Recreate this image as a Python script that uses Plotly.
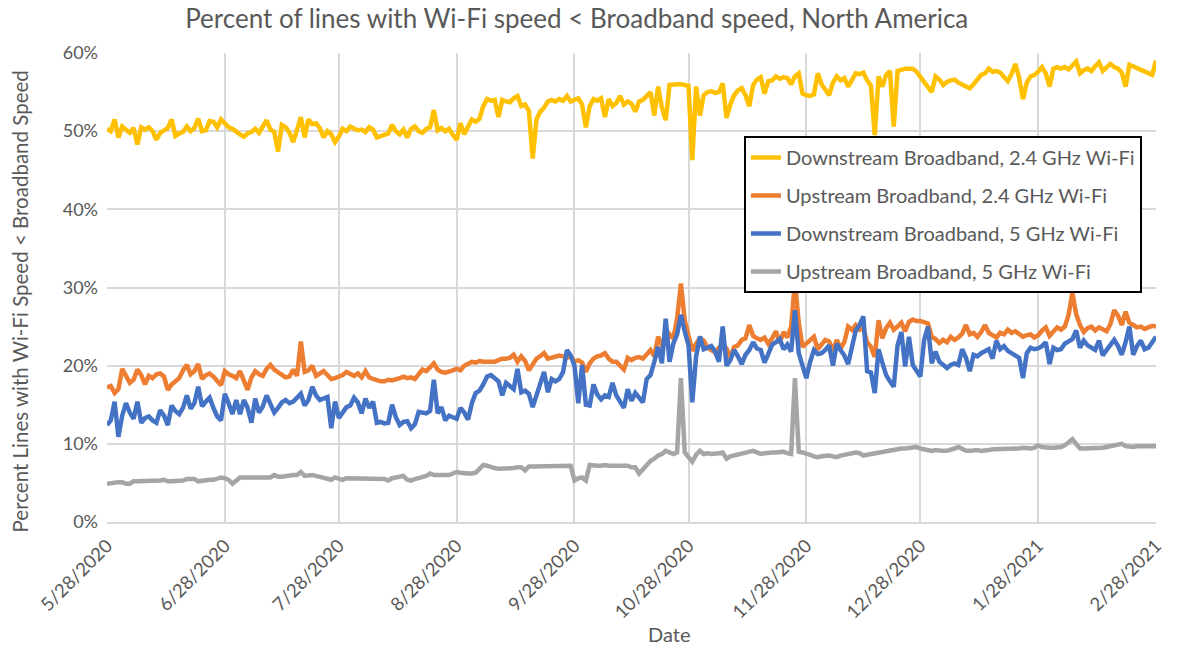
import pandas as pd
import plotly.graph_objects as go

# Daily observation dates
start_date = "2020-05-28"
end_date = "2021-02-28"
dates = pd.date_range(start_date, end_date, freq="D")

# Monthly tick marks on the date axis
tick_dates = ["2020-05-28", "2020-06-28", "2020-07-28", "2020-08-28", "2020-09-28",
              "2020-10-28", "2020-11-28", "2020-12-28", "2021-01-28", "2021-02-28"]
tick_labels = ["5/28/2020", "6/28/2020", "7/28/2020", "8/28/2020", "9/28/2020",
               "10/28/2020", "11/28/2020", "12/28/2020", "1/28/2021", "2/28/2021"]

# Percent of lines, one value per day
down_24 = [
    50.3, 50.0, 51.5, 49.2, 50.6, 50.2, 49.8, 50.4, 48.3, 50.5,
    50.2, 50.5, 50.0, 48.9, 49.8, 50.1, 50.4, 51.5, 49.4, 49.7,
    49.9, 50.6, 50.0, 50.4, 51.6, 50.0, 50.1, 51.3, 51.2, 50.5,
    51.5, 51.0, 50.5, 50.3, 49.9, 49.6, 49.3, 49.7, 49.9, 50.3,
    49.8, 50.6, 51.4, 50.2, 49.9, 47.4, 50.8, 50.5, 49.8, 48.6,
    50.3, 51.8, 49.2, 51.5, 50.9, 51.0, 50.4, 49.2, 50.0, 49.6,
    48.6, 49.3, 50.3, 50.0, 50.6, 50.4, 50.1, 50.2, 49.9, 50.5,
    50.2, 49.2, 49.4, 49.6, 49.7, 50.8, 50.0, 49.6, 50.2, 49.2,
    50.3, 50.6, 50.0, 49.8, 50.3, 50.5, 52.7, 50.1, 50.4, 50.0,
    50.3, 49.5, 48.9, 51.0, 49.6, 50.6, 51.5, 51.2, 51.6, 53.2,
    54.1, 53.9, 54.0, 51.8, 54.0, 53.8, 53.7, 54.2, 54.5, 53.2,
    53.4, 52.6, 46.5, 51.5, 52.5, 53.0, 53.8, 54.0, 53.8, 54.1,
    53.9, 54.5, 53.8, 54.0, 54.2, 53.4, 50.5, 53.2, 54.1, 53.9,
    54.2, 51.8, 54.1, 53.2, 53.6, 54.5, 53.4, 53.8, 53.5, 52.5,
    53.8, 54.0, 54.6, 55.0, 52.0, 55.7, 53.0, 51.4, 55.9, 56.0,
    56.0, 56.0, 55.9, 55.8, 46.3, 55.7, 52.0, 54.6, 55.0, 55.1,
    54.9, 55.0, 56.1, 51.7, 53.4, 54.6, 55.2, 55.5, 54.6, 53.2,
    55.9, 56.6, 56.9, 54.8, 56.4, 56.5, 57.0, 56.7, 56.9, 56.8,
    56.0, 57.0, 57.4, 54.8, 54.6, 54.5, 54.7, 57.4, 56.0, 55.3,
    54.6, 56.2, 57.0, 56.5, 56.8, 55.7, 56.6, 57.4, 57.3, 57.5,
    56.5, 55.8, 49.5, 57.0, 55.7, 57.2, 57.7, 50.6, 57.7, 57.9,
    58.0, 58.0, 58.0, 57.6, 57.0, 56.4, 55.7, 55.0, 57.0, 56.6,
    55.9, 56.3, 56.5, 56.6, 56.2, 56.0, 55.8, 55.5, 56.0, 56.5,
    57.2, 57.4, 58.0, 57.6, 57.7, 57.5, 57.0, 56.4, 57.3, 58.6,
    56.8, 54.1, 56.2, 57.0, 57.2, 57.6, 58.2, 57.4, 55.7, 58.0,
    58.2, 58.0, 58.2, 57.9, 58.4, 58.9, 57.4, 57.8, 58.0, 57.7,
    58.3, 58.8, 57.7, 58.1, 58.6, 58.2, 58.0, 57.5, 55.7, 58.5,
    58.3, 58.0, 57.8, 57.6, 57.5, 57.2, 59.0,
]

up_24 = [
    17.2, 17.4, 16.5, 17.0, 19.6, 18.6, 17.8, 18.2, 19.5, 18.8,
    17.6, 18.7, 18.4, 18.9, 19.0, 18.6, 16.9, 17.6, 18.0, 18.4,
    19.4, 20.1, 18.9, 19.3, 20.2, 18.3, 18.8, 19.0, 18.6, 18.0,
    17.5, 19.3, 18.9, 18.7, 18.4, 19.3, 18.2, 16.9, 18.5, 19.3,
    18.9, 18.7, 19.6, 20.1, 19.5, 19.2, 18.9, 18.5, 18.6, 19.5,
    18.7, 23.1, 19.2, 19.4, 20.0, 18.7, 19.0, 19.3, 18.8, 18.3,
    18.4, 18.6, 18.8, 19.2, 18.9, 18.7, 19.0, 18.5, 19.3, 18.5,
    18.3, 18.1, 18.0, 18.0, 18.2, 18.1, 18.2, 18.4, 18.6, 18.4,
    18.5, 18.3, 18.9, 19.5, 19.3, 19.8, 20.3, 19.5, 19.2, 19.1,
    19.2, 19.4, 19.6, 19.4, 20.0, 20.3, 20.5, 20.4, 20.6, 20.5,
    20.5, 20.6, 20.5, 20.7, 20.9, 20.9, 21.0, 21.4, 20.5, 21.2,
    20.6, 19.4, 20.2, 20.9, 21.2, 21.6, 20.9, 21.0, 21.2, 21.3,
    21.2, 21.0, 21.2, 20.5, 20.7, 20.4, 19.2, 20.3, 20.9, 21.2,
    21.3, 21.6, 20.9, 20.5, 20.5, 20.0, 19.5, 21.0, 20.7, 21.0,
    21.1, 20.9, 21.4, 22.0, 21.2, 23.7, 22.6, 22.8, 24.0, 23.5,
    26.0, 30.5, 25.8, 23.7, 21.9, 22.8, 23.5, 23.2, 22.3, 22.0,
    21.7, 22.3, 22.6, 22.2, 21.0, 22.4, 22.6, 23.3, 23.5, 25.2,
    23.8, 23.5, 23.3, 23.6, 22.8, 23.5, 24.4, 22.9, 24.3, 23.6,
    25.0, 30.7, 25.5, 22.4, 22.8, 23.2, 23.7, 22.1, 22.6, 23.3,
    23.1, 21.9, 23.3, 22.2, 23.0, 25.0, 24.6, 25.2, 24.6, 24.8,
    23.0, 22.4, 21.1, 25.8, 23.5, 24.8, 25.5, 24.6, 25.0, 25.5,
    24.4, 25.6, 25.9, 25.7, 25.7, 25.6, 25.4, 23.7, 23.4, 22.9,
    23.3, 23.0, 23.7, 23.3, 23.6, 24.1, 25.2, 24.0, 24.2, 23.7,
    24.3, 25.2, 24.2, 23.9, 23.6, 24.2, 24.0, 24.6, 24.2, 24.4,
    24.0, 23.7, 23.9, 24.0, 23.6, 23.9, 24.5, 24.9, 23.8, 24.3,
    24.9, 24.6, 25.0, 26.5, 29.3, 26.6, 25.2, 24.3, 24.8, 25.0,
    24.5, 24.9, 24.6, 24.4, 25.3, 27.1, 26.4, 25.2, 26.9, 25.5,
    25.2, 24.9, 25.0, 24.7, 24.9, 25.1, 25.0,
]

down_5 = [
    12.4, 13.0, 15.4, 10.9, 13.6, 15.2, 14.0, 13.2, 15.4, 12.7,
    13.3, 13.5, 13.0, 12.7, 14.3, 13.6, 12.4, 14.9, 14.2, 13.8,
    14.6, 16.2, 14.5, 15.2, 17.3, 14.8, 15.4, 15.9, 14.6, 13.5,
    13.0, 16.4, 15.2, 13.8, 15.6, 13.8, 15.6, 14.6, 12.7, 15.8,
    14.0, 14.8, 16.2, 15.1, 14.0, 14.6, 15.3, 15.6, 15.2, 15.4,
    15.9, 16.4, 14.9, 15.6, 17.3, 16.2, 15.6, 15.8, 16.0, 12.0,
    15.4, 13.3, 14.0, 14.7, 14.9, 15.9, 15.3, 13.9, 15.8, 14.6,
    15.4, 12.7, 12.8, 12.6, 12.7, 15.0, 13.4, 12.4, 12.8, 12.9,
    12.0, 12.5, 14.1, 14.0, 13.9, 14.2, 18.2, 13.9, 14.7, 13.0,
    13.6, 13.4, 13.2, 14.6, 14.0, 13.1, 15.2, 16.5, 16.8, 17.6,
    18.6, 18.8, 18.3, 18.0, 16.2, 17.8, 17.4, 17.0, 19.6, 16.6,
    16.8, 16.4, 14.7, 16.2, 17.5, 19.2, 16.6, 18.3, 18.0, 18.3,
    19.2, 22.0, 21.3, 20.0, 15.2, 20.1, 15.0, 14.9, 17.6, 16.3,
    15.7, 16.2, 16.0, 17.8, 16.2, 15.4, 14.6, 17.0, 15.5, 16.5,
    16.0, 15.3, 18.3, 18.8, 20.5, 22.4, 20.3, 26.0, 20.5, 22.8,
    24.0, 26.5, 24.4, 22.6, 15.3, 21.2, 23.7, 22.1, 22.3, 22.5,
    21.8, 20.5, 25.0, 20.0, 20.7, 22.0, 21.2, 20.2, 21.4, 22.0,
    23.0, 22.2, 22.0, 20.4, 21.5, 22.7, 23.0, 23.4, 22.1, 22.7,
    21.8, 27.1, 21.6, 20.0, 18.4, 20.5, 22.0, 21.5, 21.6, 22.0,
    22.6, 20.0, 22.8, 22.0, 21.3, 20.2, 22.5, 24.5, 25.2, 26.3,
    19.3, 19.1, 16.5, 22.1, 20.4, 18.8, 18.0, 17.3, 22.6, 24.3,
    19.9, 23.7, 20.1, 19.2, 18.6, 23.3, 25.0, 20.3, 21.8, 20.5,
    20.1, 19.7, 20.1, 20.3, 20.1, 22.1, 21.0, 19.3, 21.4, 21.2,
    21.6, 21.9, 22.1, 20.9, 23.2, 22.1, 22.5, 21.9, 21.6, 21.2,
    21.0, 18.4, 21.6, 22.3, 22.1, 22.2, 22.5, 23.0, 20.2, 22.3,
    22.0, 22.1, 22.8, 23.1, 23.4, 24.5, 22.3, 23.2, 22.6, 22.3,
    22.0, 23.2, 21.3, 22.0, 22.6, 23.3, 22.5, 21.4, 23.0, 25.0,
    21.4, 22.5, 23.2, 22.1, 22.3, 23.0, 23.7,
]

up_5 = [
    4.9, 5.0, 5.1, 5.1, 5.1, 4.9, 4.9, 5.2, 5.2, 5.2,
    5.2, 5.2, 5.2, 5.2, 5.3, 5.4, 5.2, 5.2, 5.2, 5.2,
    5.3, 5.5, 5.5, 5.5, 5.2, 5.3, 5.4, 5.4, 5.4, 5.5,
    5.7, 5.6, 5.4, 4.9, 5.3, 5.7, 5.7, 5.7, 5.7, 5.7,
    5.7, 5.7, 5.8, 5.7, 6.0, 5.8, 5.8, 5.9, 6.0, 6.0,
    6.0, 6.4, 5.9, 6.0, 6.0, 5.9, 5.8, 5.6, 5.5, 5.4,
    5.7, 5.5, 5.4, 5.6, 5.6, 5.6, 5.6, 5.6, 5.6, 5.6,
    5.6, 5.6, 5.6, 5.5, 5.3, 5.6, 5.7, 5.8, 5.9, 5.4,
    5.3, 5.5, 5.6, 5.7, 5.9, 6.2, 6.0, 6.0, 6.0, 6.0,
    6.0, 6.2, 6.4, 6.3, 6.2, 6.2, 6.2, 6.3, 6.8, 7.3,
    7.2, 7.0, 6.9, 6.8, 6.8, 6.8, 6.8, 6.9, 7.0, 7.0,
    6.6, 7.1, 7.1, 7.1, 7.1, 7.1, 7.1, 7.1, 7.1, 7.1,
    7.1, 7.2, 7.2, 5.3, 5.6, 5.7, 5.3, 7.3, 7.2, 7.2,
    7.2, 7.3, 7.2, 7.2, 7.2, 7.2, 7.2, 7.2, 7.0, 7.0,
    6.2, 6.8, 7.4, 7.8, 8.1, 8.5, 8.7, 9.1, 8.9, 8.7,
    8.9, 18.4, 8.9, 8.4, 7.7, 8.6, 9.1, 8.7, 8.8, 8.7,
    8.7, 8.8, 8.9, 8.1, 8.4, 8.5, 8.6, 8.7, 8.8, 8.9,
    9.1, 8.9, 8.7, 8.8, 8.9, 8.9, 8.9, 9.0, 9.0, 8.8,
    8.7, 18.4, 9.0, 8.9, 8.8, 8.6, 8.4, 8.3, 8.4, 8.5,
    8.5, 8.4, 8.3, 8.5, 8.6, 8.7, 8.8, 8.9, 8.8, 8.5,
    8.6, 8.7, 8.8, 8.9, 9.0, 9.1, 9.2, 9.2, 9.3, 9.4,
    9.4, 9.5, 9.6, 9.6, 9.4, 9.3, 9.2, 9.1, 9.2, 9.1,
    9.1, 9.1, 9.2, 9.4, 9.6, 9.3, 9.1, 9.1, 9.2, 9.2,
    9.1, 9.1, 9.2, 9.3, 9.3, 9.4, 9.4, 9.4, 9.4, 9.4,
    9.4, 9.5, 9.4, 9.4, 9.5, 9.8, 9.6, 9.5, 9.5, 9.5,
    9.5, 9.6, 9.8, 10.2, 10.6, 10.0, 9.4, 9.4, 9.4, 9.4,
    9.4, 9.4, 9.5, 9.6, 9.7, 9.8, 9.9, 10.0, 9.7, 9.6,
    9.6, 9.7, 9.7, 9.8, 9.7, 9.7, 9.7,
]

series_names = [
    "Downstream Broadband, 2.4 GHz Wi-Fi",
    "Upstream Broadband, 2.4 GHz Wi-Fi",
    "Downstream Broadband, 5 GHz Wi-Fi",
    "Upstream Broadband, 5 GHz Wi-Fi",
]
series_values = [down_24, up_24, down_5, up_5]
series_colors = ["#FFC000", "#ED7D31", "#4472C4", "#A5A5A5"]

FONT = "Lato"
TEXT = "#595959"
GRID = "#D9D9D9"

fig = go.Figure()
for i, (name, vals, color) in enumerate(zip(series_names, series_values, series_colors)):
    fig.add_trace(go.Scatter(
        x=dates, y=[v / 100 for v in vals], name=name, mode="lines",
        line=dict(color=color, width=4.5),
        legendgroup=f"g{i}",
    ))

fig.update_layout(
    width=1177, height=647,
    margin=dict(l=107, r=16, t=53, b=125),
    paper_bgcolor="white", plot_bgcolor="white",
    font=dict(family=FONT, color=TEXT),
    title=dict(
        text="Percent of lines with Wi-Fi speed < Broadband speed, North America",
        font=dict(family=FONT, size=26, color=TEXT),
        xref="container", x=0.49, xanchor="center",
        yref="container", y=1 - 19 / 647, yanchor="middle",
    ),
    xaxis=dict(
        type="date",
        range=[start_date, end_date],
        tickmode="array", tickvals=tick_dates, ticktext=tick_labels,
        tickangle=-45, tickfont=dict(size=18.5, color=TEXT),
        ticklabelstandoff=4,
        showgrid=True, gridcolor=GRID, gridwidth=1.5,
        showline=True, linecolor=GRID, linewidth=1.5,
        zeroline=False, ticks="",
    ),
    yaxis=dict(
        range=[0, 0.6], dtick=0.1, tickformat=".0%",
        tickfont=dict(size=18, color=TEXT),
        showgrid=True, gridcolor=GRID, gridwidth=1.5,
        zeroline=False, ticks="", ticklabelstandoff=8,
    ),
    legend=dict(
        x=(747 - 107) / 1054, y=(522 - 136) / 469,
        xanchor="left", yanchor="top",
        bgcolor="white", bordercolor="black", borderwidth=2,
        font=dict(family=FONT, size=20, color=TEXT),
        traceorder="grouped", tracegroupgap=9,
        itemwidth=30,
    ),
    annotations=[
        dict(text="Date", xref="paper", yref="paper",
             x=(672 - 107) / 1054, y=-(634 - 522) / 469,
             xanchor="center", yanchor="middle", showarrow=False,
             font=dict(family=FONT, size=20, color=TEXT)),
        dict(text="Percent Lines with Wi-Fi Speed < Broadband Speed",
             xref="paper", yref="paper", textangle=-90,
             x=-(107 - 20) / 1054, y=(522 - 301) / 469,
             xanchor="center", yanchor="middle", showarrow=False,
             font=dict(family=FONT, size=20.5, color=TEXT)),
    ],
)

fig.write_html("out.html")
